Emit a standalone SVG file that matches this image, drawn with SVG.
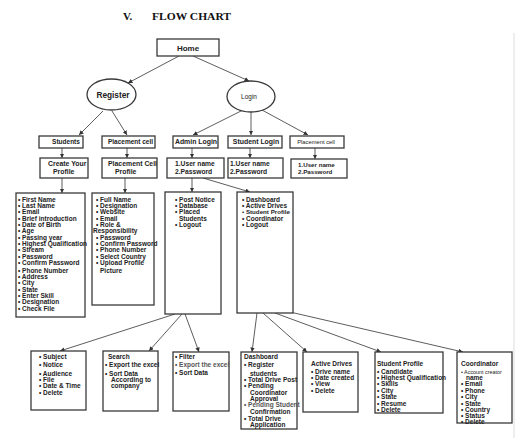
<svg xmlns="http://www.w3.org/2000/svg" width="518" height="438" viewBox="0 0 518 438">
<defs>
<marker id="ah" viewBox="0 0 10 10" refX="10" refY="5" markerWidth="4.5" markerHeight="4.5" markerUnits="userSpaceOnUse" orient="auto">
<path d="M0,0 L10,5 L0,10 z" fill="#333"/>
</marker>
<style>
.box{fill:#fff;stroke:#3a3a3a;stroke-width:1.3}
.t{font-family:"Liberation Sans",Arial,sans-serif;font-size:6.5px;font-weight:bold;fill:#222}
.s{font-size:6.2px}
.g{fill:#555}
.n{font-family:"Liberation Sans",Arial,sans-serif;font-weight:bold;fill:#222}
.m{text-anchor:middle}
.cn line{stroke:#333;stroke-width:0.8;marker-end:url(#ah)}
</style>
</defs>
<rect width="518" height="438" fill="#fff"/>
<line x1="514" y1="33" x2="514" y2="438" stroke="#ddd" stroke-width="1"/>
<text x="123" y="19.5" font-family="'Liberation Serif','Times New Roman',serif" font-weight="bold" font-size="11" fill="#111">V.</text>
<text x="152" y="19.5" font-family="'Liberation Serif','Times New Roman',serif" font-weight="bold" font-size="11" fill="#111" textLength="79" lengthAdjust="spacingAndGlyphs">FLOW CHART</text>

<g class="cn">
<line x1="179" y1="56" x2="128" y2="83"/>
<line x1="193" y1="56" x2="249" y2="81"/>
<line x1="103" y1="111" x2="79" y2="135"/>
<line x1="112" y1="111" x2="127" y2="135"/>
<line x1="241" y1="111" x2="193" y2="135"/>
<line x1="251" y1="112" x2="251" y2="135"/>
<line x1="262" y1="110" x2="308" y2="135"/>
<line x1="62" y1="148" x2="62" y2="158"/>
<line x1="127" y1="148" x2="127" y2="158"/>
<line x1="192" y1="148" x2="192" y2="158"/>
<line x1="250" y1="148" x2="250" y2="158"/>
<line x1="315" y1="148" x2="315" y2="159"/>
<line x1="62" y1="178" x2="62" y2="193"/>
<line x1="125" y1="178" x2="125" y2="193"/>
<line x1="192" y1="178" x2="192" y2="192"/>
<line x1="203" y1="178" x2="250" y2="192"/>
<line x1="175" y1="314" x2="60" y2="351"/>
<line x1="182" y1="314" x2="149" y2="351"/>
<line x1="185" y1="314" x2="199" y2="352"/>
<line x1="257" y1="313" x2="252" y2="352"/>
<line x1="263" y1="313" x2="307" y2="352"/>
<line x1="275" y1="313" x2="381" y2="352"/>
<line x1="290" y1="312" x2="463" y2="352"/>
</g>

<g id="home"><rect class="box" x="157" y="39" width="62" height="17"/><text class="n m" x="188" y="50.5" font-size="8">Home</text></g>
<g id="register"><ellipse class="box" cx="111.5" cy="94.5" rx="24.5" ry="15.5"/><text class="n m" x="113" y="97.5" font-size="8.3">Register</text></g>
<g id="login"><ellipse class="box" cx="251" cy="96.5" rx="24" ry="15.5"/><text class="m" x="249" y="99" font-family="'Liberation Sans',Arial,sans-serif" font-size="6.5" fill="#222">Login</text></g>

<g id="students"><rect class="box" x="39" y="136" width="44" height="12"/><text class="n m" x="66" y="144.3" font-size="6.5">Students</text></g>
<g id="placement-cell"><rect class="box" x="102" y="136" width="53" height="12"/><text class="n m" x="130.5" y="144.3" font-size="6.5">Placement cell</text></g>
<g id="admin-login"><rect class="box" x="173" y="136" width="45" height="12"/><text class="n m" x="196" y="144.3" font-size="6.9">Admin Login</text></g>
<g id="student-login"><rect class="box" x="228" y="136" width="54" height="12"/><text class="n m" x="256" y="144.3" font-size="6.9">Student Login</text></g>
<g id="placement-cell-2"><rect class="box" x="290" y="136" width="54" height="12"/><text class="m" x="316" y="144" font-family="'Liberation Sans',Arial,sans-serif" font-size="5.8" fill="#222">Placement cell</text></g>

<g id="create-profile"><rect class="box" x="40" y="158" width="48" height="20"/><text class="n" x="48" y="166" font-size="6.9">Create Your</text><text class="n" x="53" y="174" font-size="6.9">Profile</text></g>
<g id="placement-profile"><rect class="box" x="102" y="158" width="55" height="20"/><text class="n" x="108" y="166" font-size="6.9">Placement Cell</text><text class="n" x="115" y="174" font-size="6.9">Profile</text></g>
<g id="admin-cred"><rect class="box" x="167" y="158" width="57" height="20"/><text class="n" x="175" y="166" font-size="6.7">1.User name</text><text class="n" x="175" y="174" font-size="6.7">2.Password</text></g>
<g id="student-cred"><rect class="box" x="228" y="158" width="55" height="20"/><text class="n" x="230" y="166" font-size="6.7">1.User name</text><text class="n" x="230" y="174" font-size="6.7">2.Password</text></g>
<g id="placement-cred"><rect class="box" x="291" y="159" width="56" height="19"/><text class="n" x="298" y="166.5" font-size="6.2">1.User name</text><text class="n" x="298" y="174" font-size="6.2">2.Password</text></g>

<g id="student-fields"><rect class="box" x="16" y="193" width="69" height="124"/>
<text class="t" x="18"><tspan x="18" y="201.5">• First Name</tspan><tspan x="18" y="207.9">• Last Name</tspan><tspan x="18" y="214.2">• Email</tspan><tspan x="18" y="220.5">• Brief introduction</tspan><tspan x="18" y="226.9">• Date of Birth</tspan><tspan x="18" y="233.2">• Age</tspan><tspan x="18" y="239.5">• Passing year</tspan><tspan x="18" y="245.9">• Highest Qualification</tspan><tspan x="18" y="252.2">• Stream</tspan><tspan x="18" y="258.5">• Password</tspan><tspan x="18" y="264.9">• Confirm Password</tspan><tspan x="18" y="272.5">• Phone Number</tspan><tspan x="18" y="278.5">• Address</tspan><tspan x="18" y="285.2">• City</tspan><tspan x="18" y="291.5">• State</tspan><tspan x="18" y="297.9">• Enter Skill</tspan><tspan x="18" y="304.2">• Designation</tspan><tspan x="18" y="310.5">• Check File</tspan></text></g>

<g id="placement-fields"><rect class="box" x="92" y="193" width="62" height="112"/>
<text class="t"><tspan x="96" y="201.5">• Full Name</tspan><tspan x="96" y="207.9">• Designation</tspan><tspan x="96" y="214.2">• Website</tspan><tspan x="96" y="220.5">• Email</tspan><tspan x="96" y="226.9">• Role &amp;</tspan><tspan x="93" y="233.2">Responsibility</tspan><tspan x="96" y="239.5">• Password</tspan><tspan x="96" y="245.9">• Confirm Password</tspan><tspan x="96" y="252.2">• Phone Number</tspan><tspan x="96" y="258.5">• Select Country</tspan><tspan x="96" y="264.9">• Upload Profile</tspan><tspan x="100" y="272.5">Picture</tspan></text></g>

<g id="admin-menu"><rect class="box" x="165" y="192" width="56" height="122"/>
<text class="t"><tspan x="175" y="201.5">• Post Notice</tspan><tspan x="175" y="207.9">• Database</tspan><tspan x="175" y="214.2">• Placed</tspan><tspan x="179" y="220.5">Students</tspan><tspan x="175" y="227.2">• Logout</tspan></text></g>

<g id="dashboard-menu"><rect class="box" x="237" y="192" width="56" height="121"/>
<text class="t"><tspan x="242" y="201.5">• Dashboard</tspan><tspan x="242" y="207.9">• Active Drives</tspan><tspan x="242" y="214.2" class="s">• Student Profile</tspan><tspan x="242" y="220.5">• Coordinator</tspan><tspan x="242" y="226.9">• Logout</tspan></text></g>

<g id="notice"><rect class="box" x="31" y="351" width="55" height="59"/>
<text class="t"><tspan x="39" y="359">• Subject</tspan><tspan x="39" y="367.2">• Notice</tspan><tspan x="39" y="375.5">• Audience</tspan><tspan x="39" y="382.2">• File</tspan><tspan x="39" y="388.2">• Date &amp; Time</tspan><tspan x="39" y="394.5">• Delete</tspan></text></g>

<g id="search"><rect class="box" x="103" y="351" width="55" height="60"/>
<text class="t"><tspan x="108" y="359">Search</tspan><tspan x="105" y="367.2">• Export the excel</tspan><tspan x="105" y="375.5">• Sort Data</tspan><tspan x="111" y="382.2">According to</tspan><tspan x="111" y="388.2">company</tspan></text></g>

<g id="filter"><rect class="box" x="173" y="352" width="56" height="59"/>
<text class="t"><tspan x="175" y="359">• Filter</tspan><tspan x="175" y="367.2" class="g">• Export the excel</tspan><tspan x="175" y="375">• Sort Data</tspan></text></g>

<g id="dashboard"><rect class="box" x="241" y="352" width="56" height="77"/>
<text class="t"><tspan x="244" y="359">Dashboard</tspan><tspan x="244" y="367.2">• Register</tspan><tspan x="250" y="375.5">students</tspan><tspan x="244" y="382.2">• Total Drive Post</tspan><tspan x="244" y="388.2">• Pending</tspan><tspan x="250" y="394.5">Coordinator</tspan><tspan x="250" y="401.2">Approval</tspan><tspan x="244" y="407.2" class="g">• Pending Student</tspan><tspan x="250" y="413.9">Confirmation</tspan><tspan x="244" y="420.5">• Total Drive</tspan><tspan x="250" y="426.5">Application</tspan></text></g>

<g id="active-drives"><rect class="box" x="303" y="352" width="55" height="60"/>
<text class="t"><tspan x="311" y="365.5">Active Drives</tspan><tspan x="311" y="373.9">• Drive name</tspan><tspan x="311" y="379.9">• Date created</tspan><tspan x="311" y="386.2">• View</tspan><tspan x="311" y="392.9">• Delete</tspan></text></g>

<g id="student-profile"><rect class="box" x="375" y="352" width="68" height="61"/>
<text class="t"><tspan x="377" y="365.5">Student Profile</tspan><tspan x="377" y="373.9">• Candidate</tspan><tspan x="377" y="379.9">• Highest Qualification</tspan><tspan x="377" y="386.2">• Skills</tspan><tspan x="377" y="392.9">• City</tspan><tspan x="377" y="398.9">• State</tspan><tspan x="377" y="405.5">• Resume</tspan><tspan x="377" y="411.5">• Delete</tspan></text></g>

<g id="coordinator"><rect class="box" x="457" y="352" width="55" height="71"/>
<text class="t"><tspan x="461" y="365.5">Coordinator</tspan><tspan x="461" y="373.6" font-size="5.4" font-weight="normal">• Account creator</tspan><tspan x="466" y="379.9">name</tspan><tspan x="461" y="386.2">• Email</tspan><tspan x="461" y="392.9">• Phone</tspan><tspan x="461" y="398.9">• City</tspan><tspan x="461" y="405.5">• State</tspan><tspan x="461" y="411.5">• Country</tspan><tspan x="461" y="417.9">• Status</tspan><tspan x="461" y="423.9">• Delete</tspan></text></g>
</svg>
